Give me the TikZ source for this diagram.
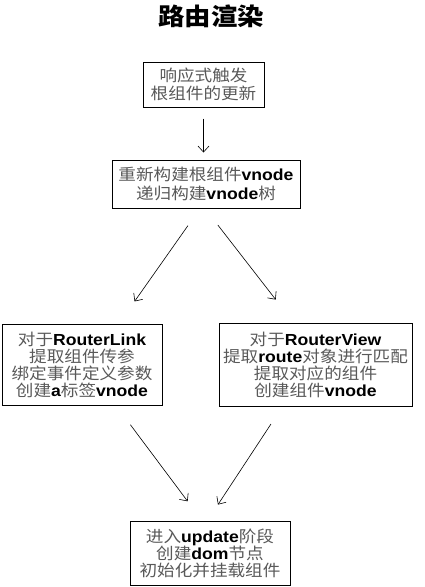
\documentclass[tikz,border=0pt]{standalone}
\usepackage{fontspec}
\setmainfont[FakeStretch=1.1]{Liberation Sans}
\newfontfamily\cjk[FakeStretch=1.1]{Noto Sans CJK SC}
\usetikzlibrary{arrows.meta}
\definecolor{zhgray}{gray}{0.35}
\newcommand{\zh}[1]{{\cjk\color{zhgray}#1}}
\newcommand{\en}[1]{{\bfseries #1}}
\begin{document}
\begin{tikzpicture}[x=1pt, y=-1pt, ->, >={Straight Barb[length=6pt,width=11pt]}, line width=0.6pt,
    stage/.style={draw, line width=1pt, align=center, inner sep=0pt, font=\fontsize{16}{17}\selectfont}]
    \useasboundingbox (0,0) rectangle (425,587);
    % Title
    \node[font=\cjk\bfseries\fontsize{24}{26}\selectfont] (title) at (211,16) {路由渲染};
    % Stages
    \node[stage, minimum width=121pt, minimum height=45pt, font=\fontsize{16}{18.3}\selectfont] (trigger) at (203.5,84.5) {\zh{响应式触发}\\\zh{根组件的更新}};
    \node[stage, minimum width=188pt, minimum height=48pt, font=\fontsize{16}{18.3}\selectfont] (rebuild) at (206,184) {\zh{重新构建根组件}\en{vnode}\\\zh{递归构建}\en{vnode}\zh{树}};
    \node[stage, minimum width=160pt, minimum height=81pt] (link) at (82,364.5) {\zh{对于}\en{RouterLink}\\\zh{提取组件传参}\\\zh{绑定事件定义参数}\\\zh{创建}\en{a}\zh{标签}\en{vnode}};
    \node[stage, minimum width=193pt, minimum height=83pt] (view) at (315.5,364.5) {\zh{对于}\en{RouterView}\\\zh{提取}\en{route}\zh{对象进行匹配}\\\zh{提取对应的组件}\\\zh{创建组件}\en{vnode}};
    \node[stage, minimum width=160pt, minimum height=64pt] (update) at (210,553) {\zh{进入}\en{update}\zh{阶段}\\\zh{创建}\en{dom}\zh{节点}\\\zh{初始化并挂载组件}};
    % Connectors
    \draw[shorten <=11pt, shorten >=7pt] (trigger.south) -- (trigger.south |- rebuild.north);
    \draw[shorten <=21pt, shorten >=27pt] ([xshift=-6pt]rebuild.south) -- ([xshift=37pt]link.north);
    \draw[shorten <=21pt, shorten >=29pt] ([xshift=-1pt]rebuild.south) -- ([xshift=-22pt]view.north);
    \draw[shorten <=24pt, shorten >=24pt] ([xshift=34pt]link.south) -- ([xshift=-8pt]update.north);
    \draw[shorten <=21pt, shorten >=19pt] ([xshift=-33pt]view.south) -- ([xshift=-2.5pt]update.north);
\end{tikzpicture}
\end{document}
